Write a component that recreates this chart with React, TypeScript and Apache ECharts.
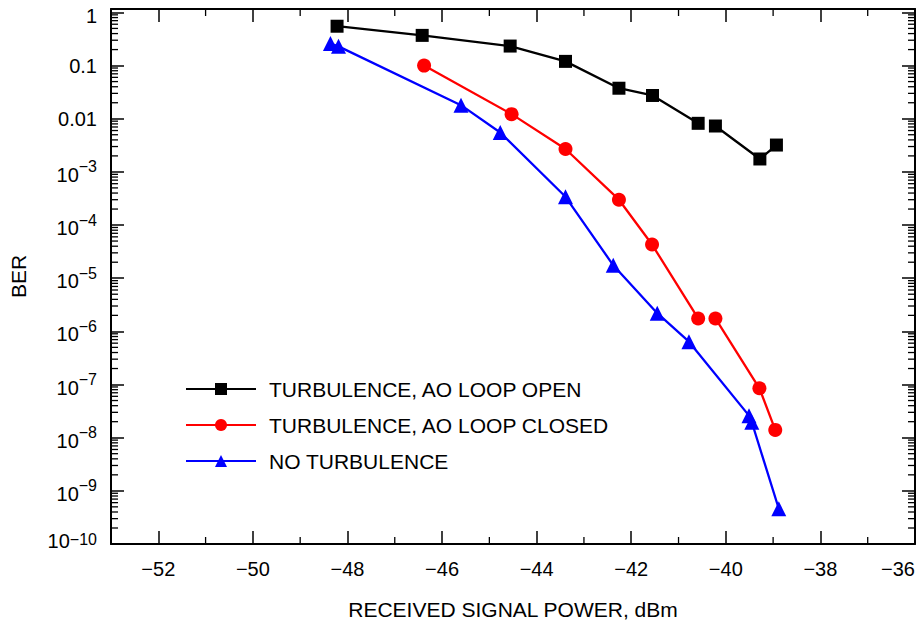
import React, { useEffect, useRef } from "react";
import * as echarts from "echarts";

const FONT = "'Liberation Sans', Arial, Helvetica, sans-serif";

const X_MIN = -53;
const X_MAX = -36;
const Y_MIN = 1e-10;
const Y_MAX = 1.16;

// Received power (dBm) and BER; null marks a break in the line
const openPower = [-48.22, -46.42, -44.56, -43.39, -42.26, -41.55, -40.585, null, -40.22, -39.28, -38.93];
const openBer = [0.55, 0.37, 0.233, 0.12, 0.0375, 0.0274, 0.0082, null, 0.0073, 0.00175, 0.0032];

const closedPower = [-46.38, -44.53, -43.39, -42.26, -41.56, -40.585, null, -40.22, -39.29, -38.955];
const closedBer = [0.1, 0.0122, 0.0027, 3.0e-4, 4.3e-5, 1.75e-6, null, 1.75e-6, 8.5e-8, 1.4e-8];

const noTurbPower = [-48.36, -48.19, -45.6, -44.77, -43.39, -42.38, -41.45, -40.78, -39.51, -39.45, -38.88];
const noTurbBer = [0.26, 0.23, 0.018, 0.0055, 3.4e-4, 1.75e-5, 2.2e-6, 6.4e-7, 2.6e-8, 1.95e-8, 4.6e-10];

const seriesNames = [
  "TURBULENCE, AO LOOP OPEN",
  "TURBULENCE, AO LOOP CLOSED",
  "NO TURBULENCE",
];

// minor tick positions
const xMinorTicks = [-51, -49, -47, -45, -43, -41, -39, -37];
const yDecades = [-10, -9, -8, -7, -6, -5, -4, -3, -2, -1];
const yMantissas = [2, 3, 4, 5, 6, 7, 8, 9];

function pairs(xs: (number | null)[], ys: (number | null)[]) {
  return xs.map((x, i) => (x === null || ys[i] === null ? ["-", "-"] : [x, ys[i]]));
}

function yLabel(v: number): string {
  const l = Math.log10(v);
  const e = Math.round(l);
  if (Math.abs(l - e) > 1e-6) return "";
  if (e === 0) return "{one|1}";
  if (e === -1) return "0.1";
  if (e === -2) return "0.01";
  if (e === -10) return `{bt|10}{s|\u2212${-e}}`;
  return `{b|10}{s|\u2212${-e}}`;
}

function xLabel(v: number): string {
  if (Math.abs(v - Math.round(v)) > 1e-6) return "";
  const r = Math.round(v);
  if (r % 2 !== 0) return "";
  return String(r).replace("-", "\u2212");
}

export default function App() {
  const ref = useRef<HTMLDivElement>(null);
  useEffect(() => {
    document.body.style.margin = "0";
    if (!ref.current) return;
    const chart = echarts.init(ref.current, undefined, { renderer: "svg" });

    const yMinorData: number[][] = [];
    yDecades.forEach((d) => yMantissas.forEach((m) => yMinorData.push([X_MIN, m * Math.pow(10, d)])));
    const xMinorData = xMinorTicks.map((x) => [x, Y_MIN]);

    const lineStyleCommon = { width: 2.3 };
    const axisLine = { show: true, onZero: false, lineStyle: { color: "#000", width: 2 } };
    const axisTick = { show: true, inside: true, length: 13, interval: 0, lineStyle: { color: "#000", width: 1.5 } };

    const option: any = {
      animation: false,
      backgroundColor: "#fff",
      grid: { left: 111, right: 7, top: 9, bottom: 79, containLabel: false },
      legend: {
        data: seriesNames,
        orient: "vertical",
        left: 180,
        top: 373,
        itemWidth: 70,
        itemHeight: 15,
        itemGap: 14,
        textStyle: {
          fontFamily: FONT,
          fontSize: 21,
          color: "#000",
          lineHeight: 22,
          padding: [0, 0, 0, 8],
        },
      },
      xAxis: [
        {
          type: "value",
          min: X_MIN,
          max: X_MAX,
          splitNumber: 8,
          position: "bottom",
          axisLine,
          axisTick,
          splitLine: { show: false },
          axisLabel: {
            formatter: xLabel,
            fontFamily: FONT,
            fontSize: 20,
            color: "#000",
            margin: 15,
            alignMaxLabel: "right",
          },
          name: "RECEIVED SIGNAL POWER, dBm",
          nameLocation: "middle",
          nameGap: 55,
          nameTextStyle: { fontFamily: FONT, fontSize: 21, color: "#000" },
        },
        {
          type: "value",
          min: X_MIN,
          max: X_MAX,
          splitNumber: 8,
          position: "top",
          axisLine,
          axisTick,
          splitLine: { show: false },
          axisLabel: { show: false },
        },
      ],
      yAxis: [
        {
          type: "log",
          logBase: 10,
          min: Y_MIN,
          max: Y_MAX,
          interval: 1,
          splitNumber: 10,
          position: "left",
          axisLine,
          axisTick,
          splitLine: { show: false },
          axisLabel: {
            interval: 0,
            hideOverlap: false,
            formatter: yLabel,
            fontFamily: FONT,
            fontSize: 20,
            color: "#000",
            margin: 14,
            rich: {
              one: { fontFamily: FONT, fontSize: 20, color: "#000", padding: [8, 0, 0, 0] },
              b: { fontFamily: FONT, fontSize: 20, color: "#000", lineHeight: 26, verticalAlign: "bottom" },
              bt: { fontFamily: FONT, fontSize: 20, color: "#000", lineHeight: 26, verticalAlign: "top", padding: [0, 0, 8, 0] },
              s: { fontFamily: FONT, fontSize: 16, color: "#000", lineHeight: 14, verticalAlign: "top" },
            },
          },
          name: "BER",
          nameLocation: "middle",
          nameGap: 82,
          nameTextStyle: { fontFamily: FONT, fontSize: 21, color: "#000" },
        },
        {
          type: "log",
          logBase: 10,
          min: Y_MIN,
          max: Y_MAX,
          interval: 1,
          splitNumber: 10,
          position: "right",
          axisLine,
          axisTick,
          splitLine: { show: false },
          axisLabel: { show: false },
        },
      ],
      series: [
        {
          name: seriesNames[0],
          type: "line",
          data: pairs(openPower, openBer),
          connectNulls: false,
          symbol: "rect",
          symbolSize: 13,
          color: "#000000",
          lineStyle: { ...lineStyleCommon, color: "#000000" },
          itemStyle: { color: "#000000" },
          z: 5,
        },
        {
          name: seriesNames[1],
          type: "line",
          data: pairs(closedPower, closedBer),
          connectNulls: false,
          symbol: "circle",
          symbolSize: 14,
          color: "#ff0000",
          lineStyle: { ...lineStyleCommon, color: "#ff0000" },
          itemStyle: { color: "#ff0000" },
          z: 4,
        },
        {
          name: seriesNames[2],
          type: "line",
          data: pairs(noTurbPower, noTurbBer),
          connectNulls: false,
          symbol: "triangle",
          symbolSize: 15,
          color: "#0000ff",
          lineStyle: { ...lineStyleCommon, color: "#0000ff" },
          itemStyle: { color: "#0000ff" },
          z: 3,
        },
        {
          name: "yMinor",
          type: "custom",
          silent: true,
          z: 6,
          data: yMinorData,
          encode: { x: 0, y: 1 },
          renderItem: (params: any, api: any) => {
            const cs = params.coordSys;
            const y = api.coord([api.value(0), api.value(1)])[1];
            const st = { stroke: "#000", lineWidth: 1.3 };
            return {
              type: "group",
              children: [
                { type: "line", shape: { x1: cs.x, y1: y, x2: cs.x + 7, y2: y }, style: st },
                { type: "line", shape: { x1: cs.x + cs.width, y1: y, x2: cs.x + cs.width - 7, y2: y }, style: st },
              ],
            };
          },
        },
        {
          name: "xMinor",
          type: "custom",
          silent: true,
          z: 6,
          data: xMinorData,
          encode: { x: 0, y: 1 },
          renderItem: (params: any, api: any) => {
            const cs = params.coordSys;
            const x = api.coord([api.value(0), api.value(1)])[0];
            const st = { stroke: "#000", lineWidth: 1.3 };
            return {
              type: "group",
              children: [
                { type: "line", shape: { x1: x, y1: cs.y + cs.height, x2: x, y2: cs.y + cs.height - 7 }, style: st },
                { type: "line", shape: { x1: x, y1: cs.y, x2: x, y2: cs.y + 7 }, style: st },
              ],
            };
          },
        },
      ],
    };
    chart.setOption(option);
    return () => chart.dispose();
  }, []);
  return (
    <div
      ref={ref}
      style={{ position: "fixed", left: 0, top: 0, width: 922, height: 625, background: "#fff" }}
    />
  );
}
